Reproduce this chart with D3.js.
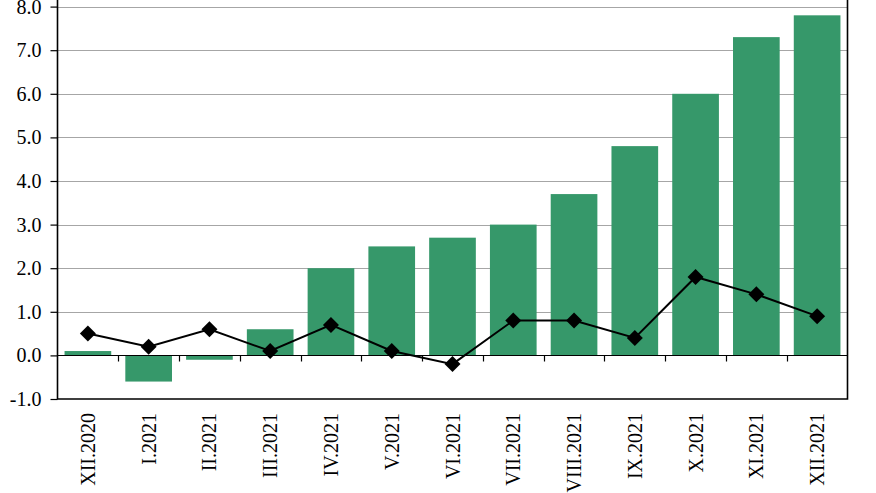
<!DOCTYPE html>
<html>
<head>
<meta charset="utf-8">
<script src="https://cdn.jsdelivr.net/npm/d3@7"></script>
<style>
  html, body { margin: 0; padding: 0; background: #fff; }
  svg { display: block; }
  text { font-family: "Liberation Serif", "Times New Roman", serif; fill: #000; }
</style>
</head>
<body>
<svg id="chart" width="876" height="493"></svg>
<script>
const categories = ["XII.2020","I.2021","II.2021","III.2021","IV.2021","V.2021","VI.2021","VII.2021","VIII.2021","IX.2021","X.2021","XI.2021","XII.2021"];
const barValues = [0.1, -0.6, -0.1, 0.6, 2.0, 2.5, 2.7, 3.0, 3.7, 4.8, 6.0, 7.3, 7.8];
const lineValues = [0.5, 0.2, 0.6, 0.1, 0.7, 0.1, -0.2, 0.8, 0.8, 0.4, 1.8, 1.4, 0.9];
const yTicks = [-1, 0, 1, 2, 3, 4, 5, 6, 7, 8];

(function () {
const svg = d3.select("#chart");
const mLeft = 57.5, mRight = 847.5, mTop = 6.6, mBottom = 399;

const x = d3.scaleBand().domain(categories).range([mLeft, mRight]).paddingInner(0.232).paddingOuter(0.116);
const xb = d3.scaleBand().domain(categories).range([mLeft, mRight]).padding(0);
const y = d3.scaleLinear().domain([-1, 8]).range([mBottom, mTop]);

// gridlines
svg.append("g").selectAll("line").data(yTicks.filter(d => d !== 0 && d !== -1)).join("line")
  .attr("x1", mLeft).attr("x2", mRight)
  .attr("y1", d => Math.round(y(d)) + 0.5).attr("y2", d => Math.round(y(d)) + 0.5)
  .attr("stroke", "#a6a6a6").attr("stroke-width", 1);

// bars
svg.append("g").selectAll("rect").data(categories).join("rect")
  .attr("x", d => x(d))
  .attr("width", x.bandwidth())
  .attr("y", (d, i) => y(Math.max(0, barValues[i])))
  .attr("height", (d, i) => Math.abs(y(barValues[i]) - y(0)))
  .attr("fill", "#36986a");

// zero line with ticks between categories
const zeroY = Math.round(y(0)) + 0.5;
svg.append("line").attr("x1", mLeft).attr("x2", mRight).attr("y1", zeroY).attr("y2", zeroY)
  .attr("stroke", "#000").attr("stroke-width", 1.2);
svg.append("g").selectAll("line").data(categories.slice(1)).join("line")
  .attr("x1", d => Math.round(xb(d)) + 0.5).attr("x2", d => Math.round(xb(d)) + 0.5)
  .attr("y1", zeroY).attr("y2", zeroY + 6)
  .attr("stroke", "#000").attr("stroke-width", 1.2);

// frame: left, bottom, right
svg.append("path")
  .attr("d", `M${mLeft},0V${mBottom}H${mRight}V0`)
  .attr("fill", "none").attr("stroke", "#000").attr("stroke-width", 1.6);

// y axis
const yAxis = d3.axisLeft(y).tickValues(yTicks).tickSize(7).tickPadding(9).tickFormat(d => d.toFixed(1));
const gy = svg.append("g").attr("transform", `translate(${mLeft},0)`).call(yAxis);
gy.select(".domain").remove();
gy.selectAll(".tick line").attr("stroke", "#000").attr("stroke-width", 1.2);
gy.selectAll("text").style("font-family", '"Liberation Serif", serif').style("font-size", "20px").attr("fill", "#000");

// x labels
svg.append("g").selectAll("text").data(categories).join("text")
  .attr("transform", d => `translate(${xb(d) + xb.bandwidth() / 2 + 7},${mBottom + 14}) rotate(-90)`)
  .attr("text-anchor", "end")
  .style("font-size", "20px")
  .text(d => d);

// line
const line = d3.line().x((d, i) => xb(categories[i]) + xb.bandwidth() / 2).y(d => y(d));
svg.append("path").datum(lineValues).attr("d", line)
  .attr("fill", "none").attr("stroke", "#000").attr("stroke-width", 2);

// diamond markers
svg.append("g").selectAll("path").data(lineValues).join("path")
  .attr("transform", (d, i) => `translate(${xb(categories[i]) + xb.bandwidth() / 2},${y(d)})`)
  .attr("d", "M0,-8L8,0L0,8L-8,0Z")
  .attr("fill", "#000");
})();
</script>
</body>
</html>
